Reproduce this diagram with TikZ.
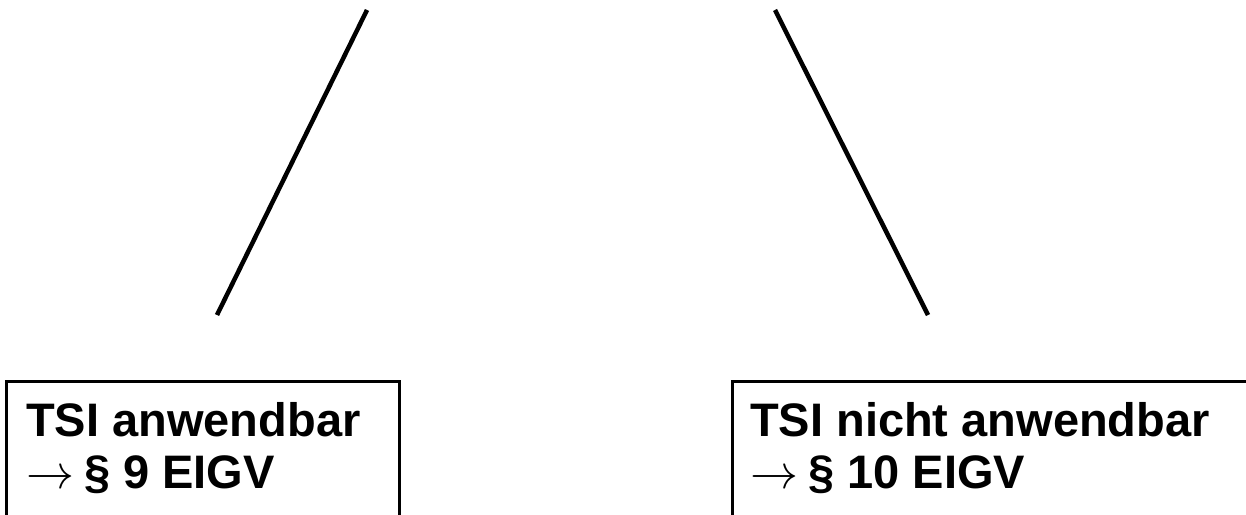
\documentclass[tikz,border=0pt]{standalone}
\usepackage{fontspec}
\usepackage{graphicx}
\setmainfont{Liberation Sans}
\newcommand{\goesto}{\smash{\scalebox{4.8}{\fontsize{10}{12}\selectfont$\rightarrow$}}\hspace{10pt}}
\begin{document}
\begin{tikzpicture}[x=1pt,y=1pt,
  branch/.style={line width=4.5pt},
  outcome/.style={draw, line width=2.5pt, minimum height=200pt, anchor=north west, inner sep=0pt},
  outcometext/.style={anchor=base west, align=left, inner sep=0pt,
    font=\fontsize{47}{52}\selectfont\bfseries}]
  \useasboundingbox (0,0) rectangle (1246,514);
  % branch ends
  \coordinate (ltop) at (367,504);
  \coordinate (lbot) at (217,199);
  \coordinate (rtop) at (775,504);
  \coordinate (rbot) at (928,199);
  \draw[branch] (ltop) -- (lbot);
  \draw[branch] (rtop) -- (rbot);
  % outcome boxes
  \node[outcome, minimum width=393pt] (lbox) at (5,134) {};
  \node[outcome, minimum width=560pt] (rbox) at (731,134) {};
  % the base anchor sits on the last line
  \node[outcometext] (ltext) at ([xshift=21pt,yshift=-108pt]lbox.north west)
    {TSI anwendbar\\\goesto§ 9 EIGV};
  \node[outcometext] (rtext) at ([xshift=19pt,yshift=-108pt]rbox.north west)
    {TSI nicht anwendbar\\\goesto§ 10 EIGV};
\end{tikzpicture}
\end{document}
